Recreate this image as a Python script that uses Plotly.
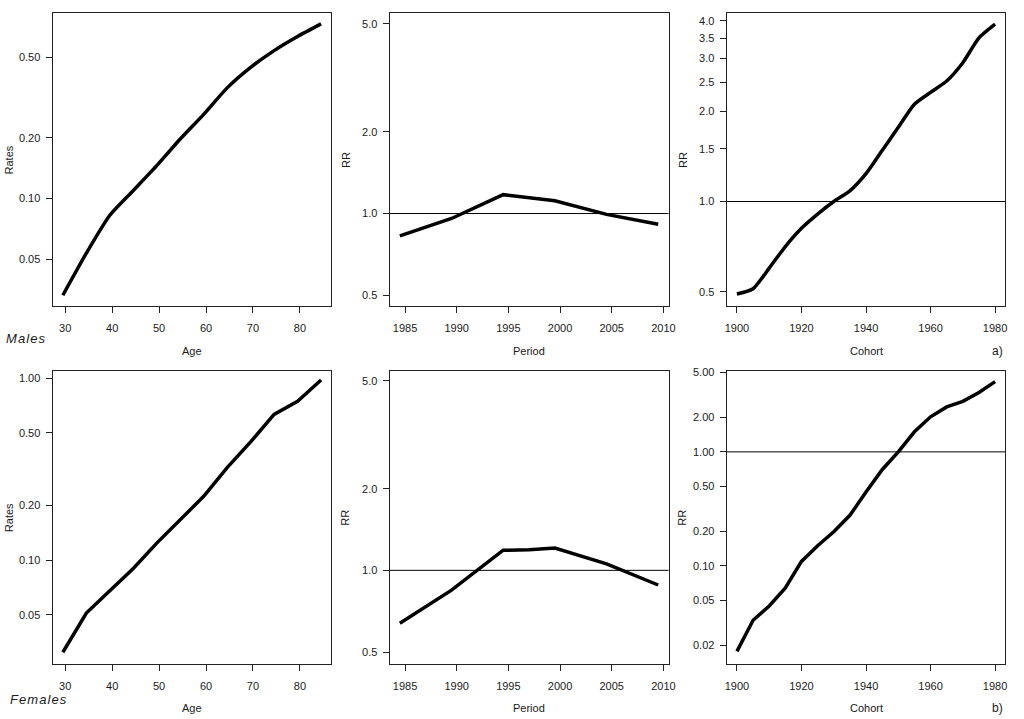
import math
import plotly.graph_objects as go

# ---------------- data ----------------
age = [29.5, 34.5, 39.5, 44.5, 49.5, 54.5, 59.5, 64.5, 69.5, 74.5, 79.5, 84.5]
male_rates = [0.0332, 0.0536, 0.0826, 0.1096, 0.1455, 0.197, 0.261, 0.353, 0.446, 0.540, 0.634, 0.732]
female_rates = [0.0312, 0.0512, 0.0678, 0.090, 0.124, 0.167, 0.224, 0.322, 0.446, 0.631, 0.746, 0.975]

period_m = [1984.5, 1989.5, 1994.5, 1999.5, 2004.5, 2009.5]
male_period_rr = [0.827, 0.959, 1.174, 1.114, 0.993, 0.914]
period_f = [1984.5, 1989.5, 1994.5, 1997.0, 1999.5, 2004.5, 2009.5]
female_period_rr = [0.638, 0.845, 1.186, 1.19, 1.208, 1.057, 0.883]

cohort = [1900, 1905, 1910, 1915, 1920, 1925, 1930, 1935, 1940, 1945, 1950, 1955, 1960, 1965, 1970, 1975, 1980]
male_cohort_rr = [0.492, 0.512, 0.600, 0.708, 0.814, 0.908, 1.0, 1.085, 1.238, 1.479, 1.767, 2.11, 2.31, 2.52, 2.90, 3.51, 3.90]
female_cohort_rr = [0.0177, 0.0332, 0.0443, 0.0638, 0.109, 0.150, 0.199, 0.277, 0.443, 0.697, 1.0, 1.50, 2.03, 2.48, 2.78, 3.32, 4.14]

ref_rr = 1.0

age_ticks = [30, 40, 50, 60, 70, 80]
period_ticks = [1985, 1990, 1995, 2000, 2005, 2010]
cohort_ticks = [1900, 1920, 1940, 1960, 1980]

male_rate_ticks = [0.05, 0.10, 0.20, 0.50]
male_rate_labels = ["0.05", "0.10", "0.20", "0.50"]
female_rate_ticks = [0.05, 0.10, 0.20, 0.50, 1.00]
female_rate_labels = ["0.05", "0.10", "0.20", "0.50", "1.00"]
period_rr_ticks = [0.5, 1.0, 2.0, 5.0]
period_rr_labels = ["0.5", "1.0", "2.0", "5.0"]
male_cohort_ticks = [0.5, 1.0, 1.5, 2.0, 2.5, 3.0, 3.5, 4.0]
male_cohort_labels = ["0.5", "1.0", "1.5", "2.0", "2.5", "3.0", "3.5", "4.0"]
female_cohort_ticks = [0.02, 0.05, 0.10, 0.20, 0.50, 1.00, 2.00, 5.00]
female_cohort_labels = ["0.02", "0.05", "0.10", "0.20", "0.50", "1.00", "2.00", "5.00"]

# ---------------- layout ----------------
W, H = 1024, 719
FONT = "Liberation Sans, Arial, sans-serif"
TXT = "#1a1a1a"

col_dom = [[0.0498, 0.3245], [0.3818, 0.6567], [0.7139, 0.9886]]
row_dom = [[0.5786, 0.9885], [0.0775, 0.4878]]

panels = [
    # row, col, x, y, xticks, xrange, yticks, ylabels, yrange, ref line, line shape
    (0, 0, age, male_rates, age_ticks, [27.3, 86.7], male_rate_ticks, male_rate_labels, [0.0294, 0.827], False, "spline"),
    (0, 1, period_m, male_period_rr, period_ticks, [1983.5, 2010.5], period_rr_ticks, period_rr_labels, [0.457, 5.47], True, "linear"),
    (0, 2, cohort, male_cohort_rr, cohort_ticks, [1896.8, 1983.2], male_cohort_ticks, male_cohort_labels, [0.449, 4.24], True, "spline"),
    (1, 0, age, female_rates, age_ticks, [27.3, 86.7], female_rate_ticks, female_rate_labels, [0.027, 1.097], False, "linear"),
    (1, 1, period_f, female_period_rr, period_ticks, [1983.5, 2010.5], period_rr_ticks, period_rr_labels, [0.453, 5.44], True, "linear"),
    (1, 2, cohort, female_cohort_rr, cohort_ticks, [1896.8, 1983.2], female_cohort_ticks, female_cohort_labels, [0.0138, 5.16], True, "linear"),
]

fig = go.Figure()
layout = dict(
    width=W, height=H,
    margin=dict(l=0, r=0, t=0, b=0),
    paper_bgcolor="white", plot_bgcolor="white",
    showlegend=False,
    font=dict(family=FONT, size=11, color=TXT),
)

axis_common = dict(
    showgrid=False, zeroline=False, showline=True, linecolor="#222222",
    linewidth=1, mirror=True, ticks="outside", ticklen=6, tickwidth=1,
    tickcolor="#222222", tickfont=dict(family=FONT, size=11, color=TXT),
)

for i, (r, c, xs, ys, xt, xr, yt, yl, yr, ref, shp) in enumerate(panels):
    n = "" if i == 0 else str(i + 1)
    line = dict(color="black", width=3.5, shape=shp)
    if shp == "spline":
        line["smoothing"] = 0.6
    fig.add_trace(go.Scatter(
        x=xs, y=ys, mode="lines", line=line,
        xaxis="x" + n, yaxis="y" + n, hoverinfo="skip",
    ))
    layout["xaxis" + n] = dict(
        axis_common, domain=col_dom[c], anchor="y" + n, range=xr,
        tickmode="array", tickvals=xt, ticklabelstandoff=6,
    )
    layout["yaxis" + n] = dict(
        axis_common, domain=row_dom[r], anchor="x" + n, type="log",
        range=[math.log10(yr[0]), math.log10(yr[1])],
        tickmode="array", tickvals=yt, ticktext=yl, ticklabelstandoff=3,
    )

fig.update_layout(**layout)

shapes = []
for i, (r, c, xs, ys, xt, xr, yt, yl, yr, ref, shp) in enumerate(panels):
    if ref:
        n = str(i + 1)
        shapes.append(dict(type="line", xref="x" + n + " domain", yref="y" + n,
                           x0=0, x1=1, y0=ref_rr, y1=ref_rr,
                           line=dict(color="black", width=1)))
fig.update_layout(shapes=shapes)

ann = []
def pa(text, x, y, size=11, rot=0, italic=False, xanchor="center"):
    ann.append(dict(
        text=("<i>" + text + "</i>") if italic else text,
        x=x / W, y=1 - y / H, xref="paper", yref="paper",
        showarrow=False, textangle=rot, xanchor=xanchor, yanchor="middle",
        font=dict(family=FONT, size=size, color=TXT),
    ))

xt_titles = ["Age", "Period", "Cohort"]
for r, yy in enumerate([348.5, 708.3]):
    for c in range(3):
        cx = (col_dom[c][0] + col_dom[c][1]) / 2 * W
        pa(xt_titles[c], cx, yy, size=11)
yt_titles = ["Rates", "RR", "RR"]
yt_x = [7, 346.5, 686.5]
for r in range(2):
    cy = (1 - (row_dom[r][0] + row_dom[r][1]) / 2) * H
    for c in range(3):
        pa(yt_titles[c], yt_x[c], cy, size=11, rot=-90)

hs = "\u200a"
pa(hs.join("Males"), 2, 335.5, size=13, italic=True, xanchor="left")
pa(hs.join("Females"), 6, 699, size=13, italic=True, xanchor="left")
pa("a)", 1004, 348.5, size=12)
pa("b)", 1004, 708, size=12)

fig.update_layout(annotations=ann)
fig.write_html("out.html", config={"displayModeBar": False})

# remove the browser's default page margin so the 1024x719 figure fills the window
with open("out.html", "r", encoding="utf-8") as f:
    html = f.read()
html = html.replace("<head>", "<head><style>html,body{margin:0;padding:0;overflow:hidden;}</style>", 1)
with open("out.html", "w", encoding="utf-8") as f:
    f.write(html)
